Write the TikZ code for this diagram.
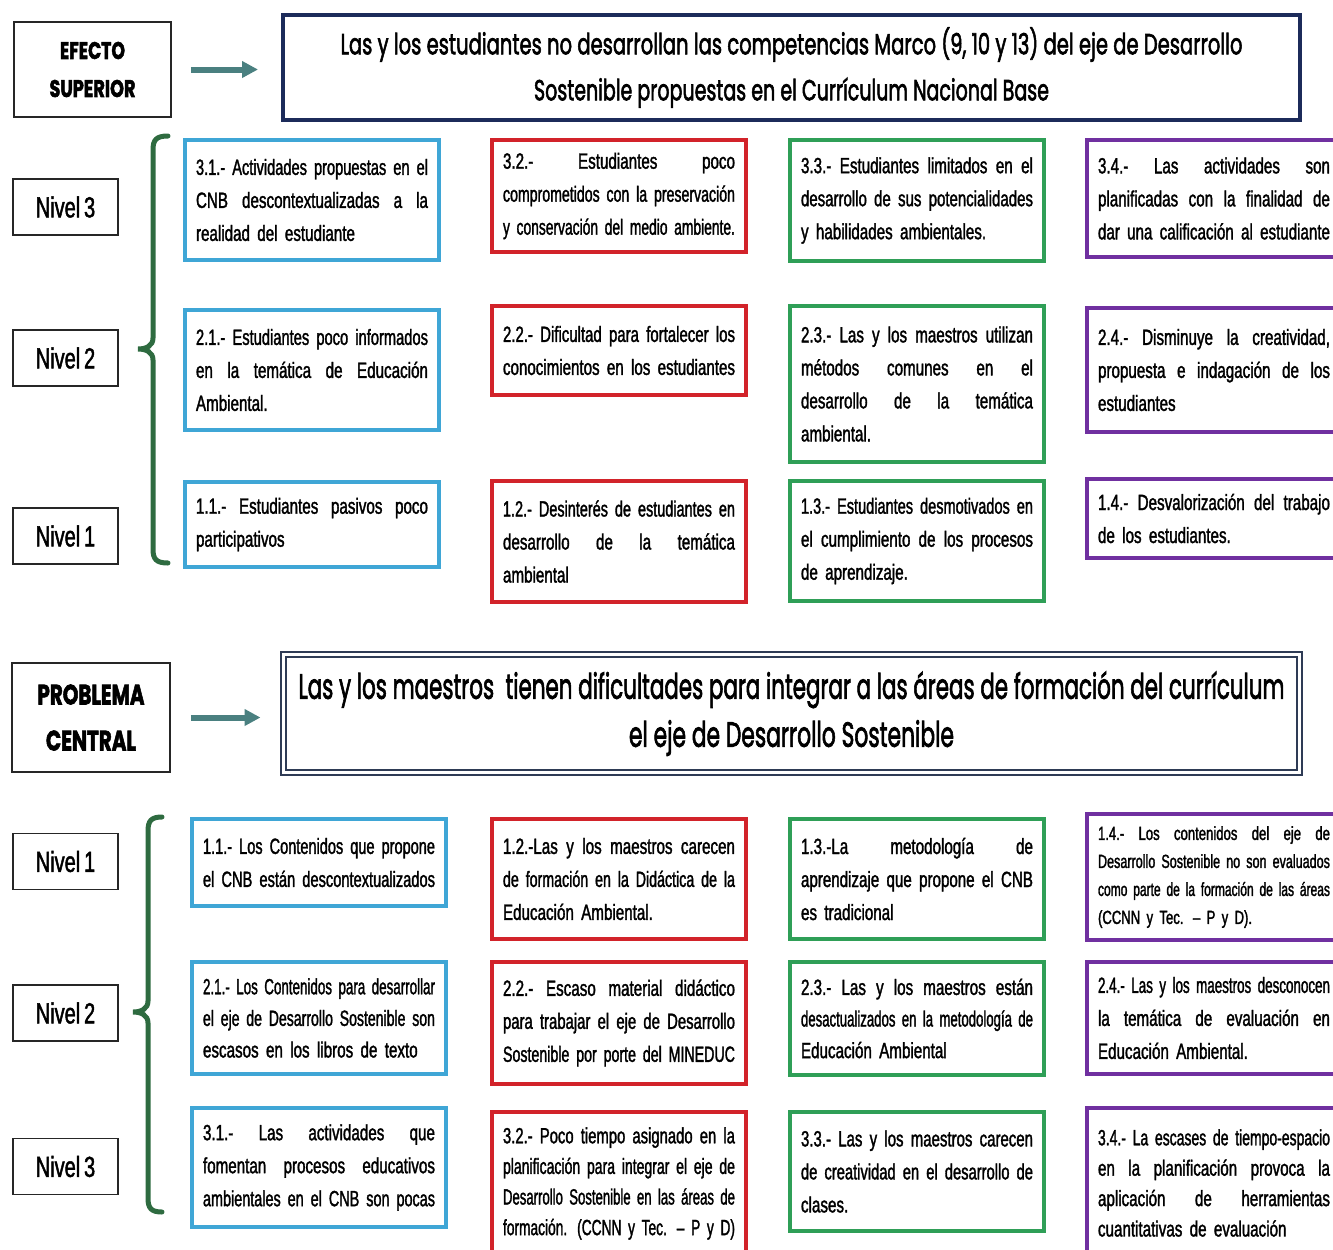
\documentclass[tikz,border=0pt]{standalone}
\usepackage{graphicx}
\usepackage{xcolor}
\usepackage{fontspec}
\setmainfont[FakeStretch=0.69, WordSpace=0.69, FakeBold=1.5]{Liberation Sans}
\newfontfamily\titulofont[FakeBold=2.5]{Poppins}
\usetikzlibrary{arrows.meta}

\definecolor{cazul}{HTML}{3FA6D6}
\definecolor{crojo}{HTML}{D2232A}
\definecolor{cverde}{HTML}{2F9F57}
\definecolor{cmorado}{HTML}{7030A0}
\definecolor{cmarino}{HTML}{1C2B5A}
\definecolor{cpizarra}{HTML}{2E3B55}
\definecolor{cllave}{HTML}{2E6B40}
\definecolor{cflecha}{HTML}{4A8080}

\newlength{\px}
\setlength{\px}{0.5pt}

% lineas justificadas dentro de las cajas
\newsavebox{\lineabox}
\newcommand{\jl}[1]{\sbox{\lineabox}{#1}%
  \ifdim\wd\lineabox>\linewidth
    \resizebox{\linewidth}{\height}{\usebox{\lineabox}}%
  \else
    \hbox to\linewidth{\spaceskip=\fontdimen2\font plus 1fil\relax #1}%
  \fi\par}
\newcommand{\fl}[1]{\sbox{\lineabox}{#1}%
  \ifdim\wd\lineabox>\linewidth
    \resizebox{\linewidth}{\height}{\usebox{\lineabox}}%
  \else
    \usebox{\lineabox}%
  \fi}
\newcommand{\fitw}[2]{\resizebox{#1}{\height}{#2}}

\begin{document}
\begin{tikzpicture}[x=0.5pt, y=-0.5pt]
        \tikzstyle{caja}=[draw, line width=2pt, fill=white, anchor=north west, text width=232\px, inner xsep=11\px, inner ysep=0pt, align=left, font=\fontsize{11pt}{16.5pt}\selectfont]
        \tikzstyle{azul}=[caja, draw=cazul]
        \tikzstyle{rojo}=[caja, draw=crojo]
        \tikzstyle{verde}=[caja, draw=cverde]
        \tikzstyle{morado}=[caja, draw=cmorado]
        \tikzstyle{nivel}=[draw=black!85, line width=0.8pt, minimum width=105\px, minimum height=56\px, inner sep=0pt, font=\fontsize{14.5pt}{16pt}\selectfont]
        \tikzstyle{etiqueta}=[draw=black!85, line width=0.8pt, inner sep=0pt, align=center]
        \tikzstyle{flecha}=[draw=cflecha, line width=3pt, -{Triangle[length=8pt, width=8pt]}]
        \tikzstyle{llave}=[draw=cllave, line width=2.5pt, line cap=round]

        \useasboundingbox (0,0) rectangle (1333,1249);

        % efecto superior
        \node[etiqueta, minimum width=157\px, minimum height=95\px, font=\titulofont\bfseries\fontsize{12pt}{19pt}\selectfont] (efsup) at (92.5,69.5) {\fitw{65\px}{EFECTO}\\ \fitw{86\px}{SUPERIOR}};
        \node[draw=cmarino, line width=2pt, minimum width=1017\px, minimum height=105\px, inner sep=0pt, align=center, font=\titulofont\fontsize{14.5pt}{23pt}\selectfont] (efecto) at (791.5,67.5) {\fitw{902\px}{Las y los estudiantes no desarrollan las competencias Marco (9, 10 y 13) del eje de Desarrollo}\\ \fitw{515\px}{Sostenible propuestas en el Currículum Nacional Base}};
        \draw[flecha, shorten <=19\px, shorten >=23\px] (efsup.east) -- (efsup.east -| efecto.west);

        \draw[llave] (168,136) .. controls (156,136) and (153,140) .. (153,150) -- (153,338)
          .. controls (153,346) and (146,349) .. (138,349) .. controls (146,349) and (153,352) .. (153,360)
          -- (153,549) .. controls (153,559) and (156,563) .. (168,563);

        \node[nivel] (sn3) at (65.5,207) {Nivel 3};
        \node[nivel] (sn2) at (65.5,358) {Nivel 2};
        \node[nivel] (sn1) at (65.5,536) {Nivel 1};

        \node[azul, minimum height=120\px] (e31) at (183,138) {\jl{3.1.- Actividades propuestas en el}\jl{CNB descontextualizadas a la}\fl{realidad del estudiante}};
        \node[rojo, minimum height=112\px] (e32) at (490,138) {\jl{3.2.- Estudiantes poco}\jl{comprometidos con la preservación}\fl{y conservación del medio ambiente.}};
        \node[verde, minimum height=121\px] (e33) at (788,138) {\jl{3.3.- Estudiantes limitados en el}\jl{desarrollo de sus potencialidades}\fl{y habilidades ambientales.}};
        \node[morado, minimum height=117\px] (e34) at (1085,138) {\jl{3.4.- Las actividades son}\jl{planificadas con la finalidad de}\fl{dar una calificación al estudiante}};

        \node[azul, minimum height=120\px] (e21) at (183,308) {\jl{2.1.- Estudiantes poco informados}\jl{en la temática de Educación}\fl{Ambiental.}};
        \node[rojo, minimum height=89\px] (e22) at (490,304) {\jl{2.2.- Dificultad para fortalecer los}\fl{conocimientos en los estudiantes}};
        \node[verde, minimum height=156\px] (e23) at (788,304) {\jl{2.3.- Las y los maestros utilizan}\jl{métodos comunes en el}\jl{desarrollo de la temática}\fl{ambiental.}};
        \node[morado, minimum height=124\px] (e24) at (1085,306) {\jl{2.4.- Disminuye la creatividad,}\jl{propuesta e indagación de los}\fl{estudiantes}};

        \node[azul, minimum height=85\px] (e11) at (183,480) {\jl{1.1.- Estudiantes pasivos poco}\fl{participativos}};
        \node[rojo, minimum height=121\px] (e12) at (490,479) {\jl{1.2.- Desinterés de estudiantes en}\jl{desarrollo de la temática}\fl{ambiental}};
        \node[verde, minimum height=120\px] (e13) at (788,479) {\jl{1.3.- Estudiantes desmotivados en}\jl{el cumplimiento de los procesos}\fl{de aprendizaje.}};
        \node[morado, minimum height=79\px] (e14) at (1085,477) {\jl{1.4.- Desvalorización del trabajo}\fl{de los estudiantes.}};

        % problema central
        \node[etiqueta, minimum width=158\px, minimum height=109\px, font=\titulofont\bfseries\fontsize{14pt}{23pt}\selectfont] (probc) at (91,717.5) {\fitw{107\px}{PROBLEMA}\\ \fitw{90\px}{CENTRAL}};
        \node[draw=cpizarra, double=white, double distance=3\px, line width=2\px, minimum width=1016\px, minimum height=118\px, inner sep=0pt, align=center, font=\titulofont\fontsize{17.5pt}{24pt}\selectfont] (central) at (791.5,713.5) {\fitw{986\px}{Las y los maestros\ \ tienen dificultades para integrar a las áreas de formación del currículum}\\ \fitw{325\px}{el eje de Desarrollo Sostenible}};
        \draw[flecha, shorten <=20\px, shorten >=22\px] (probc.east) -- (probc.east -| central.west);

        \draw[llave] (162,817) .. controls (151,817) and (148,821) .. (148,831) -- (148,1001)
          .. controls (148,1009) and (141,1012) .. (133,1012) .. controls (141,1012) and (148,1015) .. (148,1023)
          -- (148,1198) .. controls (148,1208) and (151,1212) .. (162,1212);

        \node[nivel] (pn1) at (65.5,861.5) {Nivel 1};
        \node[nivel] (pn2) at (65.5,1013) {Nivel 2};
        \node[nivel] (pn3) at (65.5,1166.5) {Nivel 3};

        \node[azul, minimum height=87\px] (p11) at (190,817) {\jl{1.1.- Los Contenidos que propone}\fl{el CNB están descontextualizados}};
        \node[rojo, minimum height=120\px] (p12) at (490,817) {\jl{1.2.-Las y los maestros carecen}\jl{de formación en la Didáctica de la}\fl{Educación Ambiental.}};
        \node[verde, minimum height=120\px] (p13) at (788,817) {\jl{1.3.-La metodología de}\jl{aprendizaje que propone el CNB}\fl{es tradicional}};
        \node[morado, minimum height=126\px, font=\fontsize{9.5pt}{14pt}\selectfont] (p14) at (1085,812) {\jl{1.4.- Los contenidos del eje de}\jl{Desarrollo Sostenible no son evaluados}\jl{como parte de la formación de las áreas}\fl{(CCNN y Tec. – P y D).}};

        \node[azul, minimum height=112\px, font=\fontsize{11pt}{15.8pt}\selectfont] (p21) at (190,960) {\jl{2.1.- Los Contenidos para desarrollar}\jl{el eje de Desarrollo Sostenible son}\fl{escasos en los libros de texto}};
        \node[rojo, minimum height=122\px] (p22) at (490,960) {\jl{2.2.- Escaso material didáctico}\jl{para trabajar el eje de Desarrollo}\fl{Sostenible por porte del MINEDUC}};
        \node[verde, minimum height=113\px, font=\fontsize{11pt}{15.8pt}\selectfont] (p23) at (788,960) {\jl{2.3.- Las y los maestros están}\jl{desactualizados en la metodología de}\fl{Educación Ambiental}};
        \node[morado, minimum height=112\px] (p24) at (1085,960) {\jl{2.4.- Las y los maestros desconocen}\jl{la temática de evaluación en}\fl{Educación Ambiental.}};

        \node[azul, minimum height=119\px] (p31) at (190,1106) {\jl{3.1.- Las actividades que}\jl{fomentan procesos educativos}\fl{ambientales en el CNB son pocas}};
        \node[rojo, minimum height=143\px, font=\fontsize{11pt}{15.3pt}\selectfont] (p32) at (490,1110) {\jl{3.2.- Poco tiempo asignado en la}\jl{planificación para integrar el eje de}\jl{Desarrollo Sostenible en las áreas de}\fl{formación. (CCNN y Tec. – P y D)}};
        \node[verde, minimum height=119\px] (p33) at (788,1110) {\jl{3.3.- Las y los maestros carecen}\jl{de creatividad en el desarrollo de}\fl{clases.}};
        \node[morado, minimum height=150\px, font=\fontsize{11pt}{15.2pt}\selectfont] (p34) at (1085,1106) {\jl{3.4.- La escases de tiempo-espacio}\jl{en la planificación provoca la}\jl{aplicación de herramientas}\fl{cuantitativas de evaluación}};
      \end{tikzpicture}
\end{document}
